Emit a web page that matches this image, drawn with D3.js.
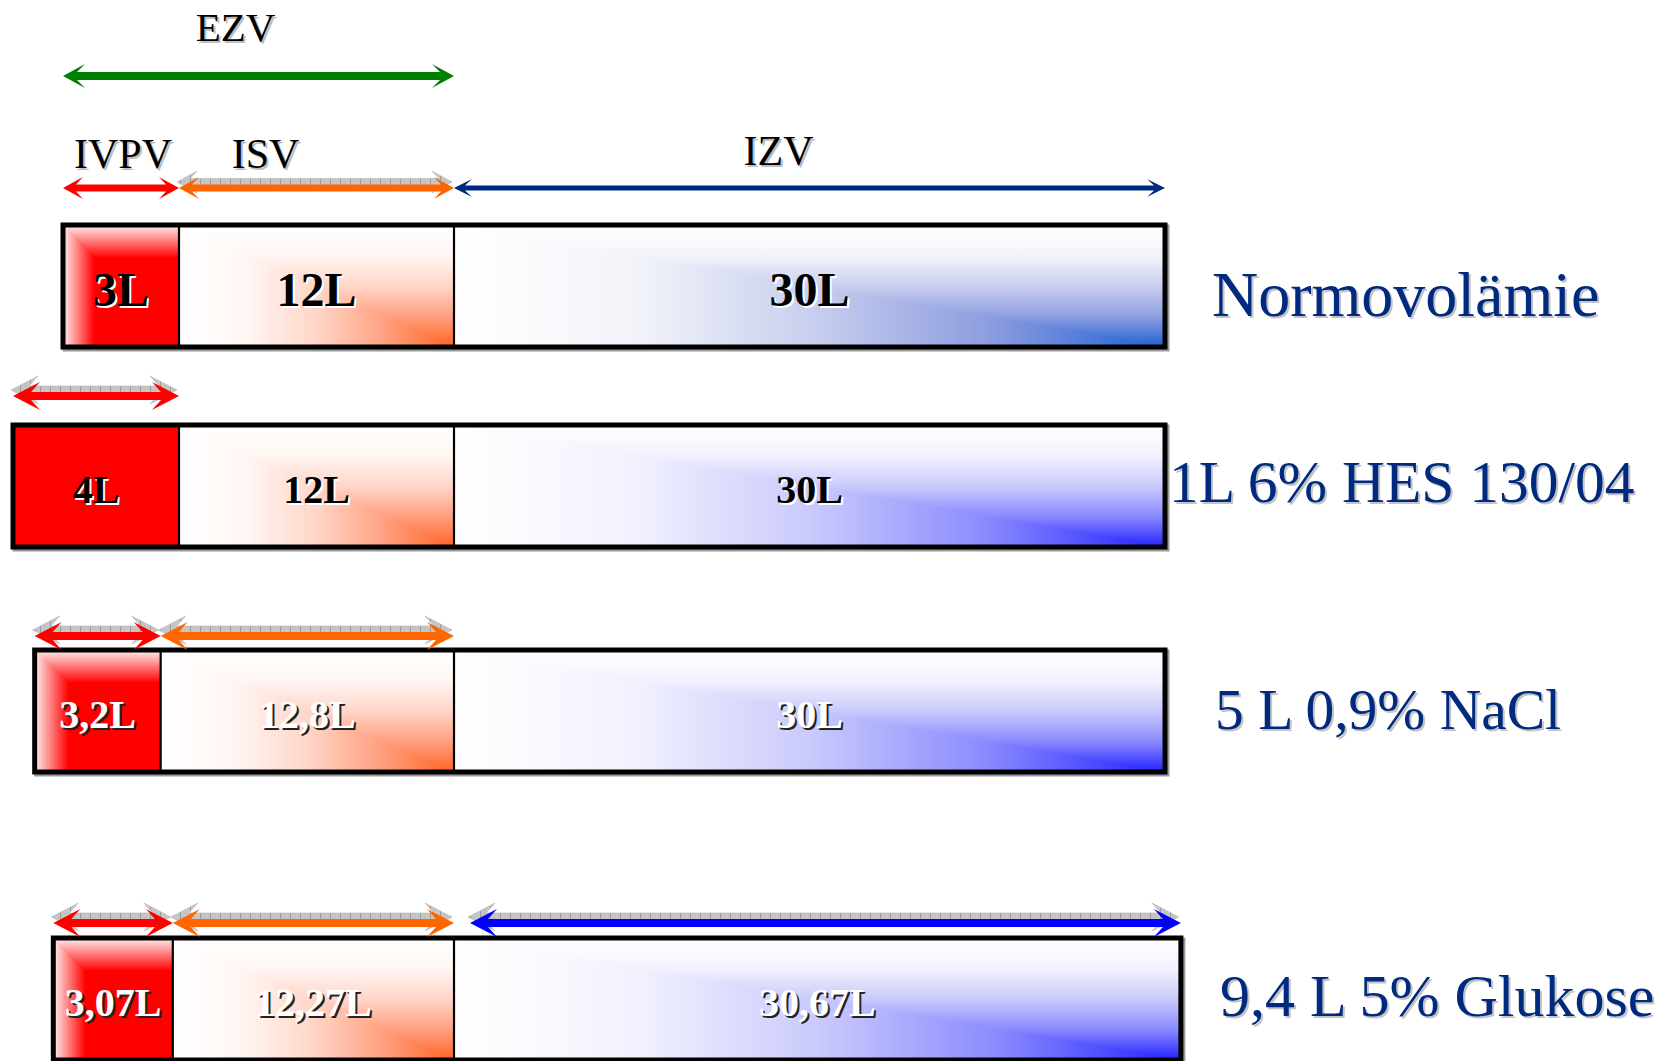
<!DOCTYPE html>
<html lang="de">
<head>
<meta charset="utf-8">
<title>Flüssigkeitskompartimente</title>
<script src="https://cdn.jsdelivr.net/npm/d3@7"></script>
<style>
  html, body { margin: 0; padding: 0; background: #ffffff; }
  svg { display: block; }
  text { font-family: "Liberation Serif", "Times New Roman", Times, serif; }
</style>
</head>
<body>
<script>
// ---- data -------------------------------------------------------------
const scenarios = ["Normovolämie", "1L 6% HES 130/04", "5 L 0,9% NaCl", "9,4 L 5% Glukose"];
const compartments = ["IVPV", "ISV", "IZV"];
const plasmaVolume = [3, 4, 3.2, 3.07];          // IVPV, litres
const interstitialVolume = [12, 12, 12.8, 12.27]; // ISV, litres
const intracellularVolume = [30, 30, 30, 30.67];  // IZV, litres
const extracellularLabel = "EZV";
// compartments marked with an arrow above each bar
const markedCompartments = [["IVPV", "ISV", "IZV"], ["IVPV"], ["IVPV", "ISV"], ["IVPV", "ISV", "IZV"]];

// ---- layout & style ---------------------------------------------------
const W = 1674, H = 1061;
const barHeight = 122;
const anchorX = 454; // border between interstitial and intracellular space

// each compartment has its own litre scale (plasma drawn enlarged)
const xPlasma = d3.scaleLinear().domain([3, 4]).range([116, 166]);
const xInter = d3.scaleLinear().domain([0, 12]).range([0, 275]);
const xCell = d3.scaleLinear().domain([0, 30]).range([0, 711]);

const yBar = d3.scaleOrdinal().domain(scenarios).range([225, 425, 650, 938]);
const yArrow = d3.scaleOrdinal().domain(scenarios).range([188, 396, 636, 923]);

const rowLabelStyle = [
  { x: 1212, y: 316, size: 64 },
  { x: 1169, y: 502, size: 59.5 },
  { x: 1215, y: 729, size: 57.5 },
  { x: 1220, y: 1016, size: 60 }
];
const valueStyle = [
  { size: 48, fill: "#000000", shadow: "#ffffff", plasma: "frame", cell: "cellSteel" },
  { size: 40, fill: "#000000", shadow: "#ffffff", plasma: "solid", cell: "cellBlue" },
  { size: 40, fill: "#ffffff", shadow: "#222222", plasma: "frame", cell: "cellBlue" },
  { size: 40, fill: "#ffffff", shadow: "#222222", plasma: "frame", cell: "cellBlue" }
];
const arrowSizes = {
  small: { shaft: 7, len: 20, half: 11, notch: 13 },
  thin: { shaft: 5, len: 18, half: 9, notch: 11 },
  big: { shaft: 8, len: 27, half: 14, notch: 18 },
  green: { shaft: 8, len: 22, half: 12, notch: 14 }
};
const arrowStyle = [
  { IVPV: { color: "#ff0000", size: "small", shadow: false },
    ISV: { color: "#ff6600", size: "small", shadow: true },
    IZV: { color: "#002a80", size: "thin", shadow: false } },
  { IVPV: { color: "#ff0000", size: "big", shadow: true } },
  { IVPV: { color: "#ff0000", size: "big", shadow: true },
    ISV: { color: "#ff6600", size: "big", shadow: true } },
  { IVPV: { color: "#ff0000", size: "big", shadow: true },
    ISV: { color: "#ff6600", size: "big", shadow: true },
    IZV: { color: "#0000ff", size: "big", shadow: true, insetLeft: 16 } }
];
const navy = "#002a7f";

const fmtLitre = v => String(v).replace(".", ",") + "L";

// ---- svg & gradients --------------------------------------------------
const svg = d3.select("body").append("svg").attr("width", W).attr("height", H);
const defs = svg.append("defs");

const gradientStops = {
  frame: [[0, "#fff0f0"], [0.27, "#ff0000"], [1, "#ff0000"]],
  solid: [[0, "#ff0000"], [1, "#ff0000"]],
  inter: [[0, "#ffffff"], [0.25, "#fff6f3"], [0.5, "#ffd6c8"], [0.75, "#ffa080"], [1, "#ff6422"]],
  cellSteel: [[0, "#ffffff"], [0.25, "#f3f4fa"], [0.5, "#c9cfee"], [0.75, "#8e9ee0"], [1, "#2160d4"]],
  cellBlue: [[0, "#ffffff"], [0.25, "#f2f2fe"], [0.5, "#cacafc"], [0.75, "#8a8aff"], [1, "#2222ff"]]
};
Object.entries(gradientStops).forEach(([key, stops]) => {
  [["h", 1, 0], ["v", 0, 1]].forEach(([dir, x2, y2]) => {
    const g = defs.append("linearGradient").attr("id", `g-${dir}-${key}`)
      .attr("x1", 0).attr("y1", 0).attr("x2", x2).attr("y2", y2);
    stops.forEach(([o, c]) => g.append("stop").attr("offset", o).attr("stop-color", c));
  });
});

// hatched grey used for the raised shadow of the arrows
const hatch = defs.append("pattern").attr("id", "hatch").attr("patternUnits", "userSpaceOnUse")
  .attr("width", 10).attr("height", 4);
hatch.append("rect").attr("width", 10).attr("height", 4).attr("fill", "#c6c6c6");
hatch.append("line").attr("x1", 0.5).attr("x2", 0.5).attr("y1", 0).attr("y2", 4)
  .attr("stroke", "#9a9a9a").attr("stroke-width", 1);
hatch.append("rect").attr("x", 4).attr("y", 1).attr("width", 1).attr("height", 1).attr("fill", "#b0b0b0");

// ---- helpers ------------------------------------------------------------
function doubleArrow(x1, x2, y, a) {
  const s = a.shaft / 2;
  const p = d3.path();
  p.moveTo(x1, y);
  p.lineTo(x1 + a.len, y - a.half);
  p.lineTo(x1 + a.notch, y - s);
  p.lineTo(x2 - a.notch, y - s);
  p.lineTo(x2 - a.len, y - a.half);
  p.lineTo(x2, y);
  p.lineTo(x2 - a.len, y + a.half);
  p.lineTo(x2 - a.notch, y + s);
  p.lineTo(x1 + a.notch, y + s);
  p.lineTo(x1 + a.len, y + a.half);
  p.closePath();
  return p.toString();
}

function drawArrow(g, x1, x2, y, color, size, shadow) {
  const a = arrowSizes[size];
  if (shadow) {
    g.append("path").attr("d", doubleArrow(x1 - 2, x2 - 2, y - 6, a))
      .attr("fill", "url(#hatch)").attr("stroke", "#b5b5b5").attr("stroke-width", 0.6);
  }
  g.append("path").attr("d", doubleArrow(x1, x2, y, a)).attr("fill", color);
}

function shadowText(g, x, y, str, opts) {
  const t = g.append("g");
  t.append("text").attr("x", x + (opts.dx || 2)).attr("y", y + (opts.dy || 2))
    .attr("text-anchor", opts.anchor || "start").attr("font-size", opts.size)
    .attr("font-weight", opts.weight || "normal").attr("fill", opts.shadow).text(str);
  t.append("text").attr("x", x).attr("y", y)
    .attr("text-anchor", opts.anchor || "start").attr("font-size", opts.size)
    .attr("font-weight", opts.weight || "normal").attr("fill", opts.fill).text(str);
  return t;
}

// rectangular corner gradient: horizontal ramp below the diagonal,
// vertical ramp above it (drawn over the full rect so no seam gap shows)
function cornerFill(g, x0, x1, y0, y1, key) {
  g.append("rect").attr("x", x0).attr("y", y0).attr("width", x1 - x0).attr("height", y1 - y0)
    .attr("fill", `url(#g-h-${key})`);
  g.append("path").attr("d", `M${x0},${y0}L${x1},${y0}L${x1},${y1}Z`)
    .attr("fill", `url(#g-v-${key})`);
}

// ---- rows ---------------------------------------------------------------
const rows = scenarios.map((name, i) => {
  const xSplit = anchorX;
  const xInterStart = xSplit - xInter(interstitialVolume[i]);
  const xStart = xInterStart - xPlasma(plasmaVolume[i]);
  const xEnd = xSplit + xCell(intracellularVolume[i]);
  return {
    name, i,
    top: yBar(name),
    segments: [
      { key: "IVPV", x0: xStart, x1: xInterStart, value: plasmaVolume[i] },
      { key: "ISV", x0: xInterStart, x1: xSplit, value: interstitialVolume[i] },
      { key: "IZV", x0: xSplit, x1: xEnd, value: intracellularVolume[i] }
    ]
  };
});

const rowG = svg.selectAll("g.row").data(rows).join("g").attr("class", "row");

rowG.each(function (r) {
  const g = d3.select(this);
  const y0 = r.top, y1 = r.top + barHeight;
  const st = valueStyle[r.i];
  const xs = r.segments[0].x0, xe = r.segments[2].x1;

  // soft drop shadow of the frame
  g.append("rect").attr("x", xs + 2).attr("y", y0 + 2).attr("width", xe - xs).attr("height", barHeight)
    .attr("fill", "none").attr("stroke", "#9a9a9a").attr("stroke-width", 5);

  r.segments.forEach(s => {
    const key = s.key === "IVPV" ? st.plasma : s.key === "ISV" ? "inter" : st.cell;
    cornerFill(g, s.x0, s.x1, y0, y1, key);
  });

  // inner dividers
  r.segments.slice(1).forEach(s => {
    g.append("line").attr("x1", s.x0).attr("x2", s.x0).attr("y1", y0).attr("y2", y1)
      .attr("stroke", "#000").attr("stroke-width", 2.2);
  });

  g.append("rect").attr("x", xs).attr("y", y0).attr("width", xe - xs).attr("height", barHeight)
    .attr("fill", "none").attr("stroke", "#000").attr("stroke-width", 5);

  // volume labels
  r.segments.forEach(s => {
    shadowText(g, (s.x0 + s.x1) / 2, y0 + barHeight / 2 + st.size * 0.42, fmtLitre(s.value), {
      anchor: "middle", size: st.size, weight: "bold", fill: st.fill, shadow: st.shadow
    });
  });

  // arrows over the changed compartments
  const ay = yArrow(r.name);
  markedCompartments[r.i].forEach(c => {
    const s = r.segments.find(d => d.key === c);
    const a = arrowStyle[r.i][c];
    drawArrow(g, s.x0 + (a.insetLeft || 0), s.x1, ay, a.color, a.size, a.shadow);
  });

  // scenario label
  const ls = rowLabelStyle[r.i];
  shadowText(g, ls.x, ls.y, r.name, { size: ls.size, fill: navy, shadow: "#c4c4c4" });
});

// ---- compartment headers (first row) -------------------------------------
const first = rows[0];
const header = svg.append("g");
const ezvX0 = first.segments[0].x0, ezvX1 = first.segments[1].x1;
drawArrow(header, ezvX0, ezvX1, 76, "#008000", "green", false);
shadowText(header, (ezvX0 + ezvX1) / 2 - 23, 41, extracellularLabel,
  { anchor: "middle", size: 41, fill: "#000", shadow: "#bdbdbd" });

const headerShift = { IVPV: 2, ISV: -51, IZV: -31 };
const headerBase = { IVPV: 168, ISV: 168, IZV: 165 };
compartments.forEach((c, k) => {
  const s = first.segments[k];
  shadowText(header, (s.x0 + s.x1) / 2 + headerShift[c], headerBase[c], c,
    { anchor: "middle", size: 42, fill: "#000", shadow: "#bdbdbd" });
});
</script>
</body>
</html>
